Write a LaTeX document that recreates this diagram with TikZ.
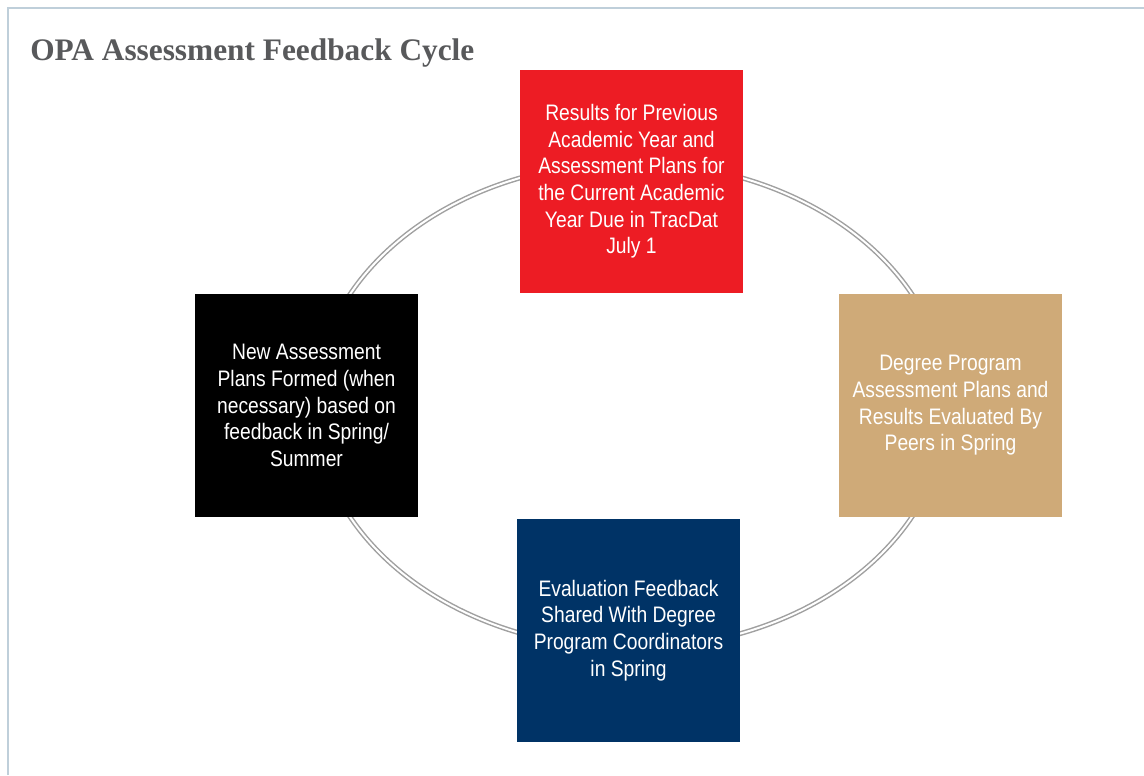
\documentclass[tikz,border=0pt]{standalone}
\usepackage{fontspec}
\setmainfont{Liberation Serif}
\newfontfamily\boxfont[FakeStretch=0.86]{Liberation Sans}
\definecolor{framec}{HTML}{BFCFDA}
\definecolor{titlec}{HTML}{58595B}
\definecolor{ringc}{HTML}{A0A0A0}
\definecolor{redbox}{HTML}{ED1C24}
\definecolor{tanbox}{HTML}{CFAA78}
\definecolor{navybox}{HTML}{003366}
\tikzset{
  stepbox/.style={minimum width=167.25pt, minimum height=167.25pt, inner sep=0pt,
    align=center, text=white,
    font=\boxfont\fontsize{16.8}{20}\selectfont},
}
\begin{document}
\begin{tikzpicture}[x=0.75pt,y=-0.75pt]
\useasboundingbox (0,0) rectangle (1144,775);
\fill[white] (0,0) rectangle (1144,775);
\draw[framec, line width=1.5pt] (7.5,775) -- (7.5,7.5) -- (1144,7.5);
\node[anchor=base west, text=titlec, inner sep=0pt, font=\bfseries\fontsize{23.5}{26}\selectfont] (title) at (30,60) {OPA Assessment Feedback Cycle};
\draw[ringc, line width=1.1pt, double=white, double distance=1.5pt] (631,405.5) ellipse [x radius=316, y radius=243];
\node[stepbox, fill=redbox] (results) at (631.5,181.5) {Results for Previous\\Academic Year and\\Assessment Plans for\\the Current Academic\\Year Due in TracDat\\July 1};
\node[stepbox, fill=tanbox] (peers) at (950.5,405.5) {Degree Program\\Assessment Plans and\\Results Evaluated By\\Peers in Spring};
\node[stepbox, fill=navybox] (shared) at (628.5,630.5) {Evaluation Feedback\\Shared With Degree\\Program Coordinators\\in Spring};
\node[stepbox, fill=black] (newplans) at (306.5,405.5) {New Assessment\\Plans Formed (when\\necessary) based on\\feedback in Spring/\\Summer};
\end{tikzpicture}
\end{document}
